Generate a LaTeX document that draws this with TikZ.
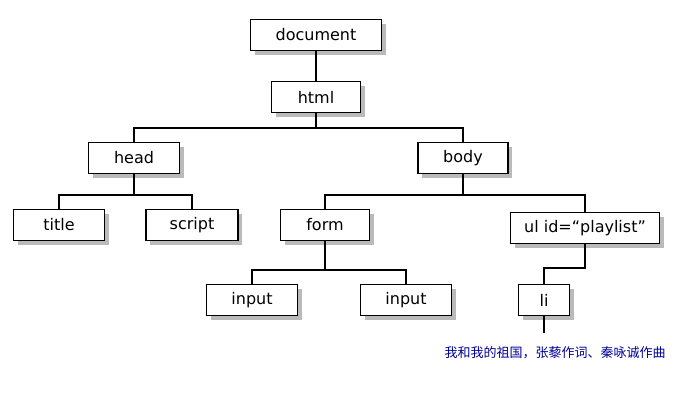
\documentclass[tikz,border=0pt]{standalone}
\usepackage{fontspec}
\setmainfont{DejaVu Sans}
\newfontfamily\cjk{Noto Sans CJK SC}
\usetikzlibrary{positioning,shadows}
\tikzset{
  tag/.style={draw=black,fill=white,line width=1.1pt,minimum height=31pt,inner sep=2pt,
    font=\fontsize{16}{18}\selectfont,
    drop shadow={shadow xshift=4pt,shadow yshift=-4pt,fill=black!45,opacity=0.6}},
  link/.style={draw=black,line width=1.4pt}
}
\begin{document}
\begin{tikzpicture}[x=1pt,y=-1pt]
	\useasboundingbox[fill=white] (0,0) rectangle (674,400);
	\node[tag,minimum width=131pt] (doc) at (316,35) {document};
	\node[tag,minimum width=89pt] (html) at (316,97) {html};
	\node[tag,minimum width=91pt] (head) at (134,158) {head};
	\node[tag,minimum width=90pt] (body) at (463,158) {body};
	\node[tag,minimum width=91pt] (title) at (59,225) {title};
	\node[tag,minimum width=92pt] (script) at (192,225) {script};
	\node[tag,minimum width=89pt] (form) at (325,225) {form};
	\node[tag,minimum width=149pt] (ul) at (585,228) {ul id=“playlist”};
	\node[tag,minimum width=91pt] (in1) at (252,300) {input};
	\node[tag,minimum width=91pt] (in2) at (406,300) {input};
	\node[tag,minimum width=51pt] (li) at (544,300) {li};
	\coordinate (tail) at (544,333);
	\node[text=blue!60!black,font=\cjk\fontsize{13}{15}\selectfont] (song) at (555,353) {我和我的祖国，张藜作词、秦咏诚作曲};

	\draw[link] (doc.south) -- (html.north);
	\draw[link] (head.north) |- (316,128) -| (body.north);
	\draw[link] (html.south) -- (316,128);
	\draw[link] (title.north) |- (134,195) -| (script.north);
	\draw[link] (head.south) -- (134,195);
	\draw[link] (form.north) |- (463,195) -| (ul.north);
	\draw[link] (body.south) -- (463,195);
	\draw[link] (in1.north) |- (325,270) -| (in2.north);
	\draw[link] (form.south) -- (325,270);
	\draw[link] (ul.south) |- (544,268) -- (li.north);
	\draw[link] (li.south) -- (tail);
\end{tikzpicture}
\end{document}
